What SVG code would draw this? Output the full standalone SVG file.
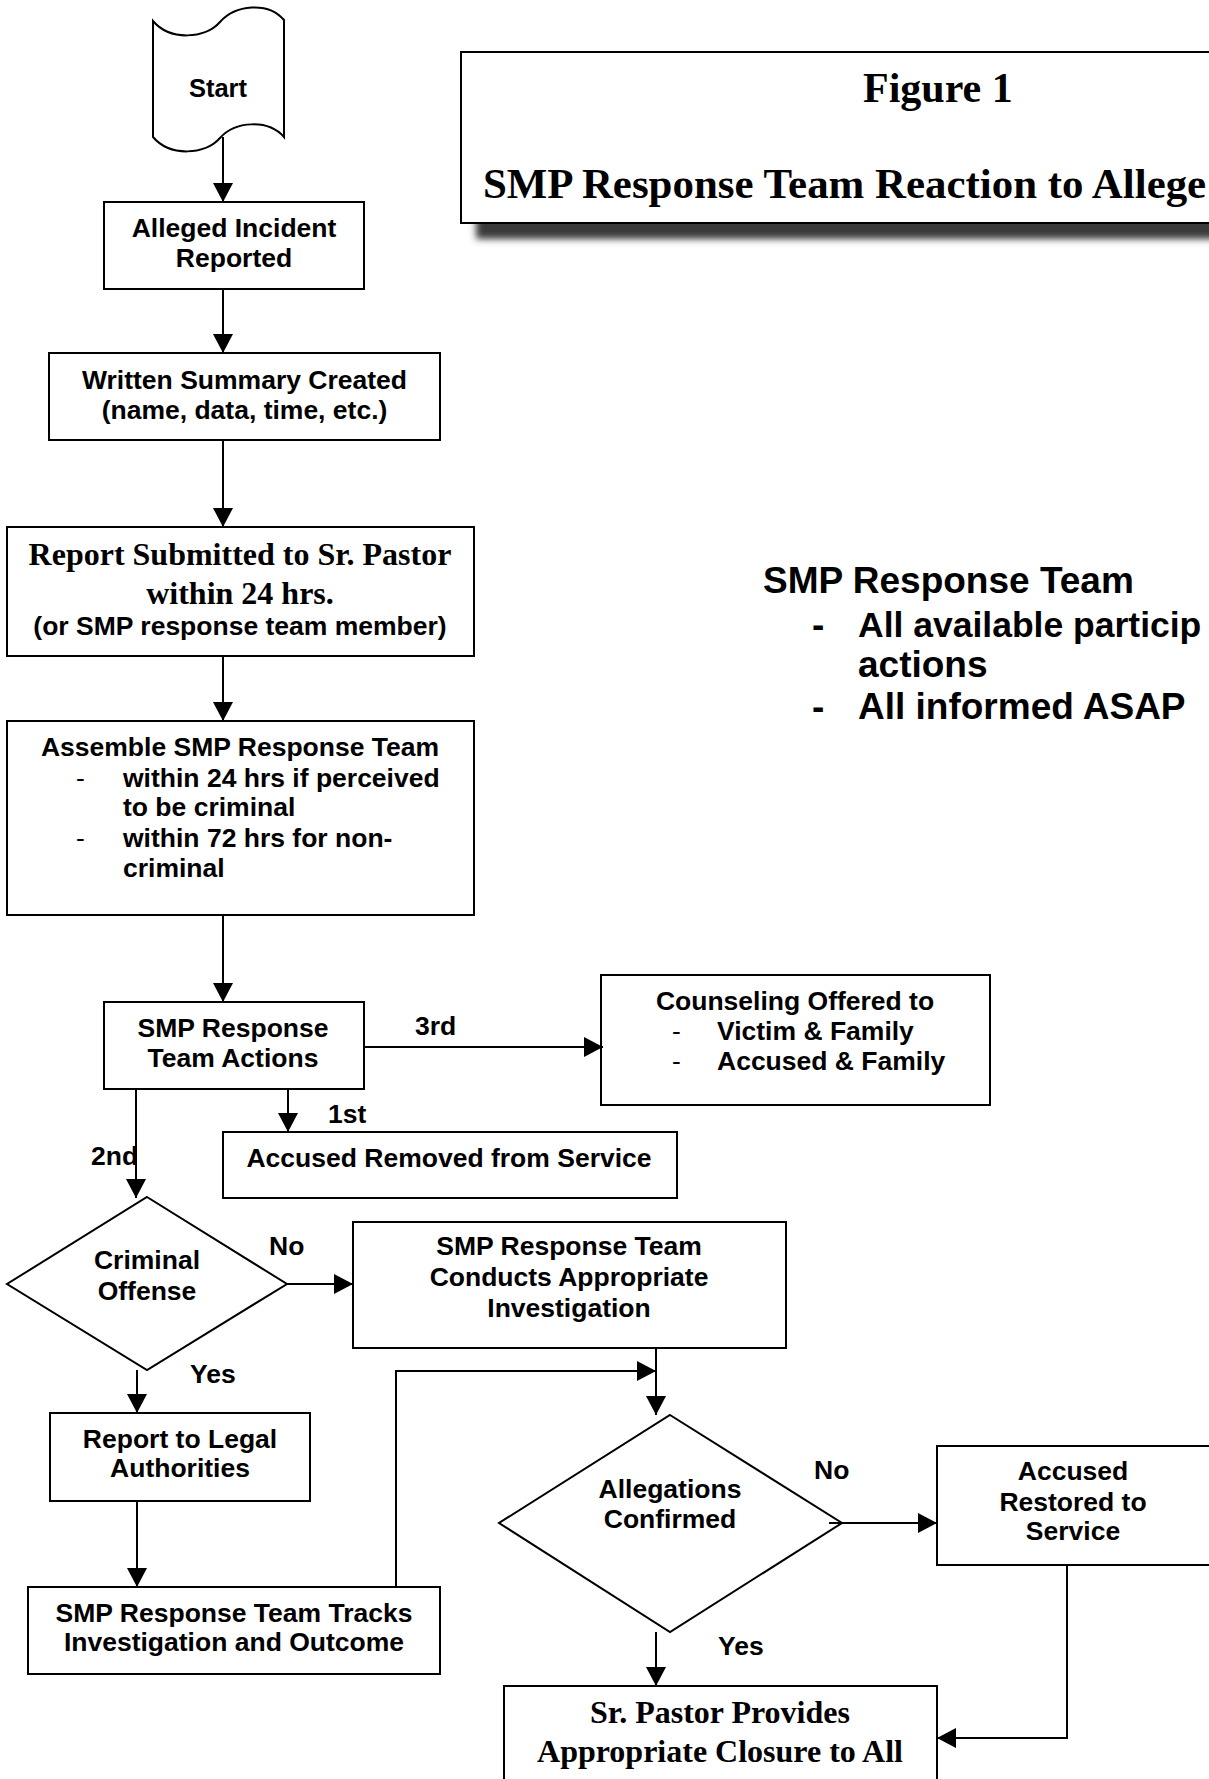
<svg xmlns="http://www.w3.org/2000/svg" width="1209" height="1779" viewBox="0 0 1209 1779">
<style>
.box{fill:#fff;stroke:#000;stroke-width:2}
.ln{fill:none;stroke:#000;stroke-width:2}
.ar{marker-end:url(#ah)}
.t{font-family:"Liberation Sans",Arial,sans-serif;font-weight:bold;font-size:26.5px;fill:#000}
.c{text-anchor:middle}
.d{font-weight:normal}
.s{font-family:"Liberation Serif","Times New Roman",serif;font-weight:bold;font-size:32px;fill:#000;text-anchor:middle}
.big{font-family:"Liberation Sans",Arial,sans-serif;font-weight:bold;font-size:37px;fill:#000}
.ttl{font-family:"Liberation Serif","Times New Roman",serif;font-weight:bold;font-size:42px;fill:#000}
</style>
<defs>
<marker id="ah" markerUnits="userSpaceOnUse" markerWidth="20" markerHeight="20" refX="19" refY="10" orient="auto">
<path d="M0,0 L19,10 L0,20 Z" fill="#000"/>
</marker>
<filter id="sh" x="-10%" y="-30%" width="130%" height="160%">
<feGaussianBlur stdDeviation="3.5"/>
</filter>
</defs>
<rect width="1209" height="1779" fill="#fff"/>

<g id="title">
<rect x="476" y="66" width="800" height="173" fill="#3a3a3a" filter="url(#sh)"/>
<rect class="box" x="461" y="52" width="800" height="171"/>
<text class="ttl" x="863" y="102">Figure 1</text>
<text class="ttl" x="483" y="198" style="font-size:42.9px">SMP Response Team Reaction to Allege</text>
</g>

<g id="team-note">
<text class="big" x="763" y="593">SMP Response Team</text>
<text class="big d" x="812" y="637">-</text>
<text class="big" x="858" y="637" style="font-size:35.5px">All available particip</text>
<text class="big" x="858" y="677">actions</text>
<text class="big d" x="812" y="719">-</text>
<text class="big" x="858" y="719">All informed ASAP</text>
</g>

<g id="start">
<path class="box" d="M153,21 C170,41 205,39 220,22 C235,5 268,1 284,20 L284,137 C268,119 235,121 220,138 C205,155 170,157 153,137 Z"/>
<text class="t c" x="218" y="97" style="font-size:25.5px">Start</text>
</g>

<g id="alleged">
<rect class="box" x="104" y="202" width="260" height="87"/>
<text class="t c" x="234" y="237">Alleged Incident</text>
<text class="t c" x="234" y="267">Reported</text>
</g>

<g id="written">
<rect class="box" x="49" y="353" width="391" height="87"/>
<text class="t c" x="244.5" y="389">Written Summary Created</text>
<text class="t c" x="244.5" y="419">(name, data, time, etc.)</text>
</g>

<g id="report">
<rect class="box" x="7" y="527" width="467" height="129"/>
<text class="s" x="240" y="565">Report Submitted to Sr. Pastor</text>
<text class="s" x="240" y="604">within 24 hrs.</text>
<text class="t c" x="240" y="635">(or SMP response team member)</text>
</g>

<g id="assemble">
<rect class="box" x="7" y="721" width="467" height="194"/>
<text class="t c" x="240" y="756">Assemble SMP Response Team</text>
<text class="t d" x="76" y="787">-</text>
<text class="t" x="123" y="787">within 24 hrs if perceived</text>
<text class="t" x="123" y="816">to be criminal</text>
<text class="t d" x="76" y="847">-</text>
<text class="t" x="123" y="847">within 72 hrs for non-</text>
<text class="t" x="123" y="877">criminal</text>
</g>

<g id="actions">
<rect class="box" x="104" y="1002" width="260" height="87"/>
<text class="t c" x="233" y="1037">SMP Response</text>
<text class="t c" x="233" y="1067">Team Actions</text>
</g>

<g id="counseling">
<rect class="box" x="601" y="975" width="389" height="130"/>
<text class="t c" x="795" y="1010">Counseling Offered to</text>
<text class="t d" x="672" y="1040">-</text>
<text class="t" x="717" y="1040">Victim &amp; Family</text>
<text class="t d" x="672" y="1070">-</text>
<text class="t" x="717" y="1070">Accused &amp; Family</text>
</g>

<g id="removed">
<rect class="box" x="223" y="1132" width="454" height="66"/>
<text class="t c" x="449" y="1167">Accused Removed from Service</text>
</g>

<g id="criminal">
<path class="box" d="M147,1197 L287,1284 L147,1370 L7,1284 Z"/>
<text class="t c" x="147" y="1269">Criminal</text>
<text class="t c" x="147" y="1300">Offense</text>
</g>

<g id="conducts">
<rect class="box" x="353" y="1222" width="433" height="126"/>
<text class="t c" x="569" y="1255">SMP Response Team</text>
<text class="t c" x="569" y="1286">Conducts Appropriate</text>
<text class="t c" x="569" y="1317">Investigation</text>
</g>

<g id="legal">
<rect class="box" x="50" y="1413" width="260" height="88"/>
<text class="t c" x="180" y="1448">Report to Legal</text>
<text class="t c" x="180" y="1477">Authorities</text>
</g>

<g id="tracks">
<rect class="box" x="28" y="1587" width="412" height="87"/>
<text class="t c" x="234" y="1622">SMP Response Team Tracks</text>
<text class="t c" x="234" y="1651">Investigation and Outcome</text>
</g>

<g id="allegations">
<path class="box" d="M670,1415 L842,1523 L670,1632 L499,1523 Z"/>
<text class="t c" x="670" y="1498">Allegations</text>
<text class="t c" x="670" y="1528">Confirmed</text>
</g>

<g id="restored">
<rect class="box" x="937" y="1446" width="273" height="119"/>
<text class="t c" x="1073" y="1480">Accused</text>
<text class="t c" x="1073" y="1511">Restored to</text>
<text class="t c" x="1073" y="1540">Service</text>
</g>

<g id="closure">
<rect class="box" x="504" y="1686" width="433" height="120"/>
<text class="s" x="720" y="1723">Sr. Pastor Provides</text>
<text class="s" x="720" y="1762">Appropriate Closure to All</text>
</g>

<g id="connectors">
<path class="ln ar" d="M223,137 L223,202"/>
<path class="ln ar" d="M223,289 L223,353"/>
<path class="ln ar" d="M223,440 L223,527"/>
<path class="ln ar" d="M223,656 L223,721"/>
<path class="ln ar" d="M223,915 L223,1002"/>
<path class="ln ar" d="M364,1047 L603,1047"/>
<path class="ln ar" d="M288,1089 L288,1132"/>
<path class="ln ar" d="M136,1089 L136,1198"/>
<path class="ln ar" d="M287,1284 L353,1284"/>
<path class="ln ar" d="M137,1370 L137,1413"/>
<path class="ln ar" d="M137,1501 L137,1587"/>
<path class="ln ar" d="M396,1587 L396,1371 L656,1371"/>
<path class="ln ar" d="M656,1348 L656,1415"/>
<path class="ln ar" d="M829,1523 L937,1523"/>
<path class="ln ar" d="M656,1632 L656,1686"/>
<path class="ln ar" d="M1067,1565 L1067,1738 L937,1738"/>
<text class="t" x="415" y="1035">3rd</text>
<text class="t" x="328" y="1123">1st</text>
<text class="t" x="91" y="1165">2nd</text>
<text class="t" x="269" y="1255">No</text>
<text class="t" x="190" y="1383">Yes</text>
<text class="t" x="814" y="1479">No</text>
<text class="t" x="718" y="1655">Yes</text>
</g>
</svg>
